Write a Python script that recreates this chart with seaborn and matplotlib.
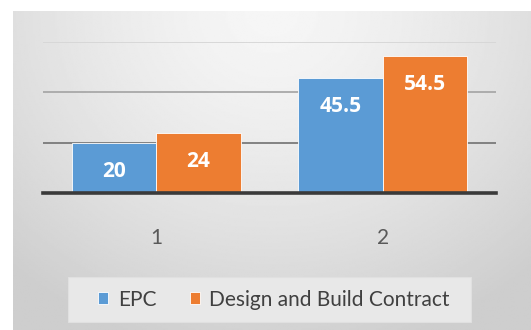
import numpy as np
import pandas as pd
import seaborn as sns
import matplotlib.pyplot as plt
from matplotlib.patches import Rectangle

categories = ["1", "2"]
series_names = ["EPC", "Design and Build Contract"]
epc_values = [20, 45.5]
dbc_values = [24, 54.5]
y_ticks = [0, 20, 40, 60]
colors = ["#5B9BD5", "#ED7D31"]

df = pd.DataFrame({
    "group": categories * 2,
    "series": [series_names[0]] * 2 + [series_names[1]] * 2,
    "value": epc_values + dbc_values,
})

sns.set_theme(style="white")
plt.rcParams["font.family"] = ["Lato", "DejaVu Sans"]

W, H = 531, 330
fig = plt.figure(figsize=(W / 100, H / 100), dpi=100)
fig.patch.set_facecolor("white")

# chart area with a soft radial gradient
bg = fig.add_axes([13 / W, 0, 1 - 13 / W, 1 - 11 / H], zorder=0)
yy, xx = np.mgrid[0:1:200j, 0:1:300j]
r = np.sqrt(((xx - 0.5) / 0.75) ** 2 + ((yy - 0.0) / 1.1) ** 2)
shade = 0.965 - 0.16 * np.clip(r, 0, 1) ** 1.4
bg.imshow(shade, cmap="gray", vmin=0, vmax=1, aspect="auto",
          extent=[0, 1, 1, 0], interpolation="bilinear")
bg.set_axis_off()

# legend panel
fig.patches.append(Rectangle((68 / W, 1 - 322 / H), (471 - 68) / W, 45 / H,
                             transform=fig.transFigure, facecolor="#e8e8e8",
                             edgecolor="#e0e0e0", linewidth=0.8, zorder=1))

ax = fig.add_axes([43 / W, (H - 193) / H, (496 - 43) / W, (193 - 42) / H], zorder=2)
ax.set_facecolor("none")

sns.barplot(data=df, x="group", y="value", hue="series", order=categories,
            hue_order=series_names, palette=colors, width=0.746, gap=0,
            edgecolor="white", linewidth=0.6, saturation=1, ax=ax, zorder=3)

ax.set_ylim(0, 60)
ax.set_yticks(y_ticks)
ax.set_yticklabels([])
ax.tick_params(axis="y", length=0)
ax.tick_params(axis="x", length=0, pad=25, labelsize=15, labelcolor="#595959")
ax.set_xlabel("")
ax.set_ylabel("")
for side in ["top", "right", "left"]:
    ax.spines[side].set_visible(False)
ax.spines["bottom"].set_color("#3a3a3a")
ax.spines["bottom"].set_linewidth(2.6)
ax.spines["bottom"].set_zorder(5)

grid_colors = {20: "#7a7a7a", 40: "#a8a8a8", 60: "#d6d6d6"}
for v in y_ticks[1:]:
    ax.axhline(v, color=grid_colors[v], linewidth=1.3, zorder=1)

for container, vals in zip(ax.containers, [epc_values, dbc_values]):
    for bar, v in zip(container, vals):
        ax.annotate(f"{v:g}", xy=(bar.get_x() + bar.get_width() / 2, v),
                    xytext=(0, -20.5), textcoords="offset points",
                    ha="center", va="center", color="white",
                    fontsize=15, fontweight="bold",
                    family=["Open Sans", "DejaVu Sans"], zorder=6)

leg = ax.legend(loc="center", bbox_to_anchor=(274 / W, 1 - 299.5 / H),
                bbox_transform=fig.transFigure, ncol=2, frameon=False,
                fontsize=15, handlelength=0.5, handleheight=0.5,
                handletextpad=0.45, columnspacing=1.6, borderpad=0.4)
for t in leg.get_texts():
    t.set_color("#404040")

fig.savefig("out.png", dpi=100, facecolor="white")
